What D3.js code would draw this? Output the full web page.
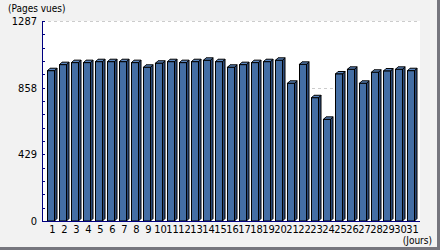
<!DOCTYPE html>
<html>
<head>
<meta charset="utf-8">
<script src="https://cdn.jsdelivr.net/npm/d3@7"></script>
<style>
  body { margin: 0; background: #fff; }
  text { font-family: "DejaVu Sans Condensed", "DejaVu Sans", sans-serif; fill: #000; }
</style>
</head>
<body>
<div id="chart"></div>
<script>
// Pages vues par jour
var days = d3.range(1, 32).map(String);
var pageViews = [967, 1006, 1019, 1019, 1025, 1025, 1025, 1019, 989, 1015,
                 1025, 1019, 1025, 1034, 1025, 989, 1006, 1019, 1025, 1034,
                 886, 1008, 793, 654, 946, 976, 886, 957, 965, 976, 967];
var yTicks = [0, 429, 858, 1287];
var yMax = 1287;

var W = 440, H = 250;
var plot = {left: 42, right: 420, top: 21, bottom: 221};

var svg = d3.select("#chart").append("svg")
  .attr("width", W)
  .attr("height", H);

// outer frame
svg.append("rect")
  .attr("width", W).attr("height", H)
  .attr("fill", "#76767e");
svg.append("rect")
  .attr("width", W - 3).attr("height", H - 3)
  .attr("fill", "#f2f2f2");

// plot background
svg.append("rect")
  .attr("x", plot.left).attr("y", plot.top)
  .attr("width", plot.right - plot.left)
  .attr("height", plot.bottom - plot.top)
  .attr("fill", "#fff");

var x = d3.scaleBand()
  .domain(days)
  .range([45, 417]);

var y = d3.scaleLinear()
  .domain([0, yMax])
  .range([plot.bottom, plot.top]);

// dashed grid lines
svg.selectAll(".grid")
  .data(yTicks.filter(function(d) { return d > 0; }))
  .enter().append("line")
  .attr("class", "grid")
  .attr("x1", plot.left).attr("x2", plot.right)
  .attr("y1", function(d) { return Math.round(y(d)) + 0.5; })
  .attr("y2", function(d) { return Math.round(y(d)) + 0.5; })
  .attr("stroke", "#cccccc")
  .attr("stroke-dasharray", "3,3");

// 3D bars
var frontW = 7, depth = 2.5;
var bars = svg.selectAll(".bar")
  .data(pageViews)
  .enter().append("g")
  .attr("class", "bar");

bars.append("path")
  .attr("d", function(d, i) {
    var x0 = x(days[i]) + 2.5, x1 = x0 + frontW, yt = y(d);
    return "M" + x1 + "," + plot.bottom + "L" + x1 + "," + yt +
      "L" + (x1 + depth) + "," + (yt - depth) +
      "L" + (x1 + depth) + "," + (plot.bottom - depth) + "Z";
  })
  .attr("fill", "#2c4a78")
  .attr("stroke", "#000")
  .attr("stroke-width", 1);

bars.append("path")
  .attr("d", function(d, i) {
    var x0 = x(days[i]) + 2.5, x1 = x0 + frontW, yt = y(d);
    return "M" + x0 + "," + yt + "L" + (x0 + depth) + "," + (yt - depth) +
      "L" + (x1 + depth) + "," + (yt - depth) + "L" + x1 + "," + yt + "Z";
  })
  .attr("fill", "#5b86bf")
  .attr("stroke", "#000")
  .attr("stroke-width", 1);

bars.append("rect")
  .attr("x", function(d, i) { return x(days[i]) + 2.5; })
  .attr("y", function(d) { return y(d); })
  .attr("width", frontW)
  .attr("height", function(d) { return plot.bottom - y(d); })
  .attr("fill", "#446ea4")
  .attr("stroke", "#000")
  .attr("stroke-width", 1);

// axes lines
svg.append("line")
  .attr("x1", plot.left + 0.5).attr("x2", plot.left + 0.5)
  .attr("y1", plot.top).attr("y2", plot.bottom + 0.5)
  .attr("stroke", "#000080");
svg.append("line")
  .attr("x1", plot.left).attr("x2", plot.right)
  .attr("y1", plot.bottom + 0.5).attr("y2", plot.bottom + 0.5)
  .attr("stroke", "#000080");

// minor ticks every 1/15 of the range
var minor = d3.range(0, 16).map(function(i) { return yMax * i / 15; });
svg.selectAll(".minor")
  .data(minor)
  .enter().append("line")
  .attr("class", "minor")
  .attr("x1", plot.left).attr("x2", plot.left + 3)
  .attr("y1", function(d) { return Math.round(y(d)) + 0.5; })
  .attr("y2", function(d) { return Math.round(y(d)) + 0.5; })
  .attr("stroke", "#000080");

// y labels
svg.selectAll(".ylab")
  .data(yTicks)
  .enter().append("text")
  .attr("class", "ylab")
  .attr("x", 37)
  .attr("y", function(d) { return y(d) + 4; })
  .attr("text-anchor", "end")
  .style("font-size", "11px")
  .text(function(d) { return d; });

// x labels
svg.selectAll(".xlab")
  .data(days)
  .enter().append("text")
  .attr("class", "xlab")
  .attr("x", function(d) { return x(d) + 2.5 + frontW / 2 + 1.5; })
  .attr("y", 233)
  .attr("text-anchor", "middle")
  .style("font-size", "11px")
  .text(function(d) { return d; });

svg.append("text")
  .attr("x", 8).attr("y", 12)
  .style("font-size", "10px")
  .text("(Pages vues)");

svg.append("text")
  .attr("x", 432).attr("y", 244)
  .attr("text-anchor", "end")
  .style("font-size", "10px")
  .text("(Jours)");
</script>
</body>
</html>
